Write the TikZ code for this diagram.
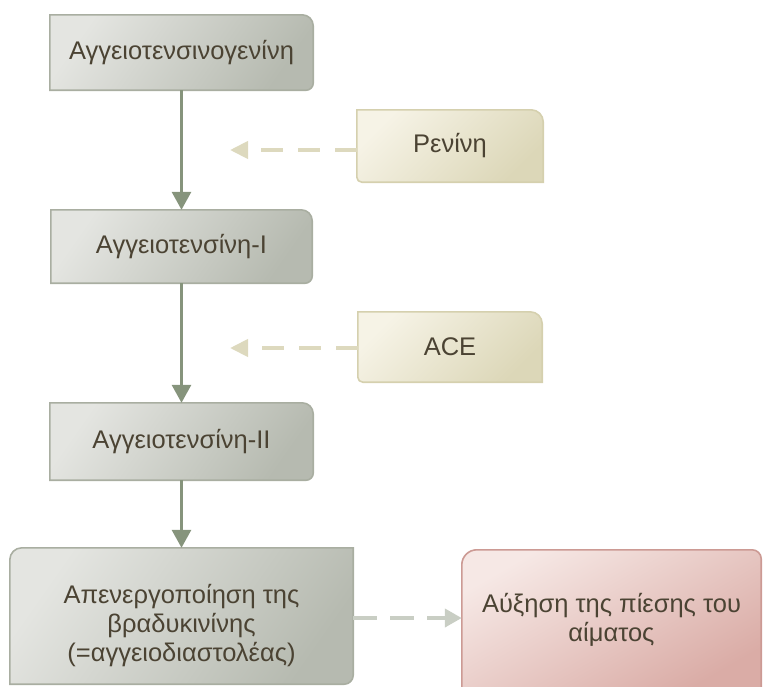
\documentclass[tikz,border=0pt]{standalone}
\usepackage{fontspec}
\setmainfont{Liberation Sans}
\usetikzlibrary{arrows.meta,backgrounds}

\definecolor{txt}{HTML}{4B4333}
\definecolor{grayA}{HTML}{E4E5E1}
\definecolor{grayB}{HTML}{B6BAB0}
\definecolor{grayE}{HTML}{A9AEA1}
\definecolor{beigeA}{HTML}{F6F3E6}
\definecolor{beigeB}{HTML}{DCD7B8}
\definecolor{beigeE}{HTML}{D5D0AE}
\definecolor{redA}{HTML}{F6E8E5}
\definecolor{redB}{HTML}{DAACA6}
\definecolor{redE}{HTML}{CC9A94}
\definecolor{flow}{HTML}{86947C}
\definecolor{hint}{HTML}{DDD9BE}
\definecolor{effect}{HTML}{C9CEC4}

\tikzset{
  label/.style={text=txt, align=center, inner sep=0pt,
    font=\fontsize{25.5}{29}\selectfont},
  graybg/.style={top color=grayA, bottom color=grayB, shading angle=55,
    draw=grayE, line width=1.6pt},
  beigebg/.style={top color=beigeA, bottom color=beigeB, shading angle=45,
    draw=beigeE, line width=1.6pt},
  redbg/.style={top color=redA, bottom color=redB, shading angle=30,
    draw=redE, line width=1.6pt},
  flowarrow/.style={draw=flow, line width=3pt,
    -{Triangle[length=18pt,width=19pt]}},
  hintarrow/.style={draw=hint, line width=4pt, dash pattern=on 22pt off 15pt,
    -{Triangle[length=18pt,width=17pt]}},
  effectarrow/.style={draw=effect, line width=4pt, dash pattern=on 24pt off 13pt,
    -{Triangle[length=17pt,width=18pt]}},
}

\begin{document}
\begin{tikzpicture}[x=1pt,y=-1pt]
\clip (0,0) rectangle (763,686);

% cascade of the system
\node[label, minimum width=263pt, minimum height=75pt] (ang) at (181.5,52.5) {Αγγειοτενσινογενίνη};
\node[label, minimum width=261pt, minimum height=73pt] (ang1) at (181.5,246.5) {Αγγειοτενσίνη-I};
\node[label, minimum width=263pt, minimum height=77pt] (ang2) at (181.5,441.5) {Αγγειοτενσίνη-II};
\node[label, minimum width=343pt, minimum height=136pt] (brad) at (181.5,616)
  {\raisebox{-11pt}[\height][\depth]{\begin{tabular}{@{}c@{}}Απενεργοποίηση της\\βραδυκινίνης\\(=αγγειοδιαστολέας)\end{tabular}}};

% enzymes
\node[label, minimum width=186pt, minimum height=72pt] (renin) at (450,146) {Ρενίνη};
\node[label, minimum width=184pt, minimum height=70pt] (ace) at (450,347) {ACE};

% outcome
\node[label, minimum width=299pt, minimum height=140pt] (bp) at (611.5,620) {Αύξηση της πίεσης του\\αίματος};

\coordinate (rtip) at (230,150);
\coordinate (atip) at (230,348);

\begin{scope}[on background layer]
  \foreach \n in {ang,ang1,ang2}{
    \path[graybg] (\n.west) -- (\n.north west)
      [rounded corners=11pt] -- (\n.north east)
      [rounded corners=7pt] -- (\n.south east)
      [sharp corners] -- (\n.south west) -- cycle;
  }
  \path[graybg] (brad.north) -- (brad.north east)
      [rounded corners=9pt] -- (brad.south east)
      [sharp corners] -- (brad.south west)
      [rounded corners=12pt] -- (brad.north west)
      [sharp corners] -- cycle;
  \foreach \n in {renin,ace}{
    \path[beigebg] (\n.west) -- (\n.north west)
      [rounded corners=12pt] -- (\n.north east)
      [sharp corners] -- (\n.south east)
      [rounded corners=5pt] -- (\n.south west)
      [sharp corners] -- cycle;
  }
  \path[redbg] (bp.south west)
      [rounded corners=15pt] -- (bp.north west)
      [rounded corners=9pt] -- (bp.north east)
      [sharp corners] -- (bp.south east) -- cycle;
\end{scope}

\draw[flowarrow] (ang) -- (ang1);
\draw[flowarrow] (ang1) -- (ang2);
\draw[flowarrow] (ang2) -- (brad);

\draw[hintarrow] (renin.west |- rtip) -- (rtip);
\draw[hintarrow] (ace.west |- atip) -- (atip);

\draw[effectarrow] (brad.east |- 0,618) -- (bp.west |- 0,618);
\end{tikzpicture}
\end{document}
